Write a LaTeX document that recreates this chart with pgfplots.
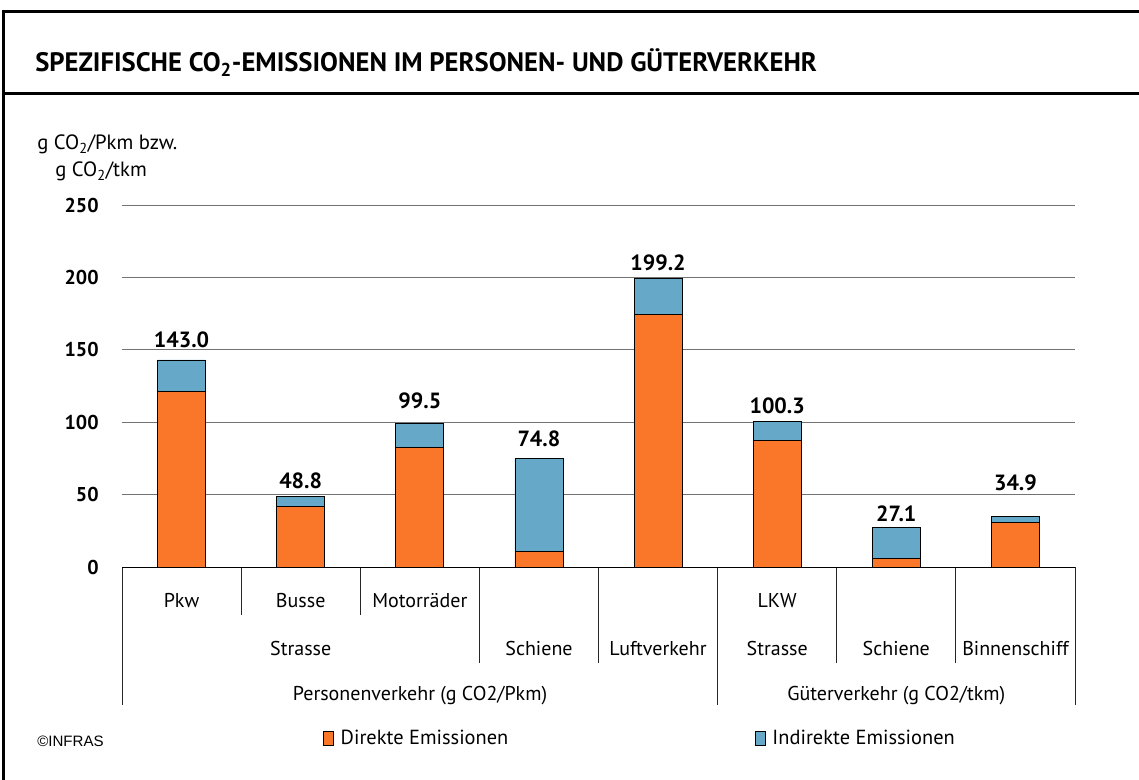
\documentclass[border=0pt]{standalone}
\usepackage{pgfplots}
\pgfplotsset{compat=1.18}
\usepackage{fontspec}
\setmainfont{PT Sans}
\newfontfamily\arialfont{Liberation Sans}
\definecolor{direkt}{RGB}{250,118,40}
\definecolor{indirekt}{RGB}{102,168,200}
\begin{document}
\begin{tikzpicture}
\begin{scope}[x=0.75pt,y=-0.75pt]
\path[use as bounding box] (0,0) rectangle (1139,780);
\draw[line width=2.25pt] (3,780) -- (3,12) -- (1139,12);
\draw[line width=2.25pt] (3,94) -- (1139,94);
\node[anchor=base west, inner sep=0pt, font=\fontsize{20}{22}\selectfont\bfseries] at (35,72) {SPEZIFISCHE CO\textsubscript{2}-EMISSIONEN IM PERSONEN- UND GÜTERVERKEHR};
\node[anchor=base west, inner sep=0pt, font=\fontsize{15.5}{17}\selectfont] at (37,150) {g CO\textsubscript{2}/Pkm bzw.};
\node[anchor=base west, inner sep=0pt, font=\fontsize{15.5}{17}\selectfont] at (55,177) {g CO\textsubscript{2}/tkm};
% category table
\begin{scope}[black!85, line width=0.75pt]
\draw (122,567) -- (122,705);
\draw (241.1,567) -- (241.1,615);
\draw (360.25,567) -- (360.25,615);
\draw (479.4,567) -- (479.4,663);
\draw (598.5,567) -- (598.5,663);
\draw (717.6,567) -- (717.6,705);
\draw (836.75,567) -- (836.75,663);
\draw (955.9,567) -- (955.9,663);
\draw (1075,567) -- (1075,705);
\end{scope}
\begin{scope}[every node/.style={anchor=base, inner sep=0pt, font=\fontsize{15}{17}\selectfont}]
\node at (181.5,607) {Pkw};
\node at (300.7,607) {Busse};
\node at (419.8,607) {Motorräder};
\node at (777.2,607) {LKW};
\node at (300.7,655) {Strasse};
\node at (539,655) {Schiene};
\node at (658,655) {Luftverkehr};
\node at (777.2,655) {Strasse};
\node at (896.3,655) {Schiene};
\node at (1015.5,655) {Binnenschiff};
\node at (420,700) {Personenverkehr (g CO2/Pkm)};
\node at (896.3,700) {Güterverkehr (g CO2/tkm)};
\end{scope}
\node[anchor=west, inner sep=0pt, font=\arialfont\fontsize{11.3}{13}\selectfont] at (37,741) {©INFRAS};
\end{scope}
\begin{axis}[
  at={(91.5pt,-425.25pt)}, anchor=south west,
  scale only axis, width=714.75pt, height=271.5pt,
  xmin=-0.5, xmax=7.5, ymin=0, ymax=250,
  ybar stacked, bar width=36pt,
  xtick=\empty,
  ytick={0,50,100,150,200,250},
  ymajorgrids, grid style={black!55, line width=0.75pt},
  axis x line*=bottom, axis y line*=left,
  x axis line style={black, line width=0.75pt, -},
  y axis line style={draw=none},
  major tick length=0pt,
  yticklabel style={font=\fontsize{15}{17}\selectfont\bfseries, /pgf/number format/assume math mode=true, xshift=-14pt},
  clip=false,
  legend style={at={(axis description cs:0.2109,-0.473)}, anchor=west, draw=none, fill=none, inner sep=0pt,
    font=\fontsize{15.3}{17}\selectfont, /tikz/every even column/.append style={column sep=183pt},
    /tikz/every odd column/.append style={column sep=3pt}},
  legend columns=2, legend cell align=left,
]
\addplot[fill=direkt, draw=black, line width=0.6pt,
  legend image code/.code={\draw[fill=direkt, draw=black, line width=0.6pt] (0pt,-5pt) rectangle (7.5pt,5.5pt);}]
  coordinates {(0,121.0) (1,42.0) (2,82.4) (3,10.8) (4,174.5) (5,87.7) (6,6.0) (7,30.9)};
\addlegendentry{Direkte Emissionen}
\addplot[fill=indirekt, draw=black, line width=0.6pt,
  legend image code/.code={\draw[fill=indirekt, draw=black, line width=0.6pt] (0pt,-5pt) rectangle (7.5pt,5.5pt);}]
  coordinates {(0,22.0) (1,6.8) (2,17.1) (3,64.0) (4,24.7) (5,12.6) (6,21.1) (7,4.0)};
\addlegendentry{Indirekte Emissionen}
\end{axis}
\begin{axis}[
  at={(91.5pt,-425.25pt)}, anchor=south west,
  scale only axis, width=714.75pt, height=271.5pt,
  xmin=-0.5, xmax=7.5, ymin=0, ymax=250,
  hide axis, clip=false,
]
% total labels, placed at the baseline heights used in the reference
\addplot[only marks, mark=none, nodes near coords, point meta=explicit symbolic,
  nodes near coords style={font=\fontsize{16.5}{18}\selectfont\bfseries, anchor=base, inner sep=0pt, yshift=0pt, text=black}]
  coordinates {(0,151.8)[143.0] (1,54.4)[48.8] (2,109.7)[99.5] (3,82.9)[74.8] (4,204.6)[199.2] (5,106.2)[100.3] (6,31.5)[27.1] (7,53.0)[34.9]};
\end{axis}
\end{tikzpicture}
\end{document}
